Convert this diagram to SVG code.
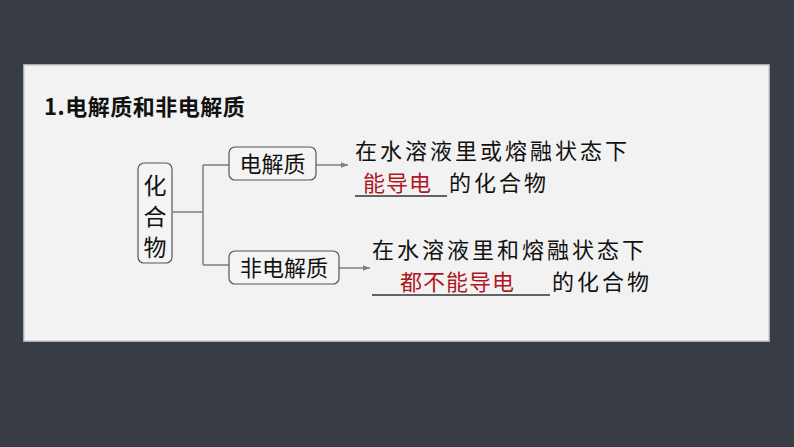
<svg xmlns="http://www.w3.org/2000/svg" width="794" height="447" viewBox="0 0 794 447">
<defs>
<marker id="ah" viewBox="0 0 10 10" refX="10" refY="5" markerWidth="7" markerHeight="7" markerUnits="userSpaceOnUse" orient="auto"><path d="M0,1 L10,5 L0,9 Z" fill="#7f7f7f"/></marker>
<style>
.t{font-family:"Noto Sans CJK SC","Noto Sans",sans-serif;fill:#111}
.box{fill:#f4f4f4;stroke:#555;stroke-width:1.2}
.ln{fill:none;stroke:#7f7f7f;stroke-width:1.5}
.red{fill:#b0171f}
.ul{stroke:#333;stroke-width:1.5}
</style>
</defs>
<rect width="794" height="447" fill="#383d45"/>
<rect x="24" y="65" width="745" height="276" fill="#f2f2f2" stroke="#d0d0d8" stroke-width="1.5"/>
<text class="t" x="44" y="115" font-size="22" font-weight="bold" letter-spacing="0.5">1.电解质和非电解质</text>
<g id="connectors">
<path class="ln" d="M173,212 H203 M203,165 V265 M203,165 H229 M203,265 H229"/>
<path class="ln" d="M316,165 H348" marker-end="url(#ah)"/>
<path class="ln" d="M339,268 H370" marker-end="url(#ah)"/>
</g>
<g id="n-compound">
<rect class="box" x="138" y="163" width="34" height="100" rx="6"/>
<text class="t" x="155" y="194" font-size="23" text-anchor="middle">化</text>
<text class="t" x="155" y="225" font-size="23" text-anchor="middle">合</text>
<text class="t" x="155" y="256" font-size="23" text-anchor="middle">物</text>
</g>
<g id="n-electrolyte">
<rect class="box" x="229" y="147" width="87" height="33" rx="6"/>
<text class="t" x="272.5" y="172" font-size="22" text-anchor="middle">电解质</text>
</g>
<g id="n-nonelectrolyte">
<rect class="box" x="229" y="251" width="110" height="33" rx="6"/>
<text class="t" x="284" y="276" font-size="22" text-anchor="middle">非电解质</text>
</g>
<g id="d-electrolyte">
<text class="t" x="355" y="159" font-size="22" letter-spacing="3">在水溶液里或熔融状态下</text>
<line class="ul" x1="355" y1="196" x2="447" y2="196"/>
<text class="t red" x="363" y="191" font-size="22" letter-spacing="1">能导电</text>
<text class="t" x="449" y="191" font-size="22" letter-spacing="3">的化合物</text>
</g>
<g id="d-nonelectrolyte">
<text class="t" x="372" y="258" font-size="22" letter-spacing="3">在水溶液里和熔融状态下</text>
<line class="ul" x1="372" y1="295" x2="550" y2="295"/>
<text class="t red" x="400" y="290" font-size="22" letter-spacing="1">都不能导电</text>
<text class="t" x="552" y="290" font-size="22" letter-spacing="3">的化合物</text>
</g>
</svg>
